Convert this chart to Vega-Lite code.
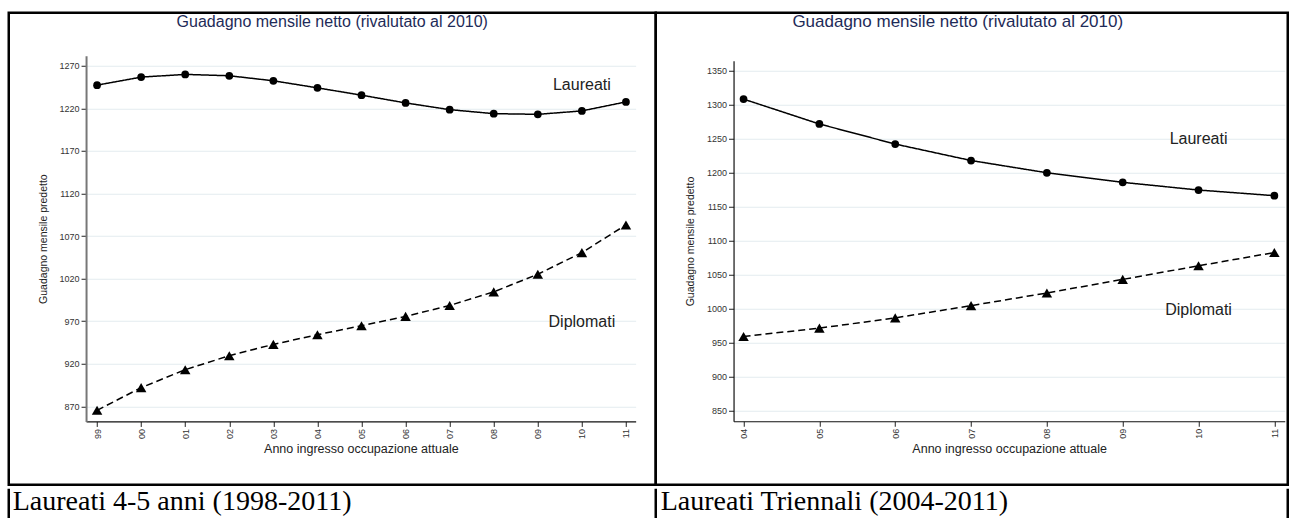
{
  "$schema": "https://vega.github.io/schema/vega-lite/v6.json",
  "padding": {"left": 6.75, "top": 10.75, "right": 0.75, "bottom": 0},
  "background": "white",
  "config": {
    "view": {"stroke": null},
    "font": "Liberation Sans",
    "concat": {"spacing": 0}
  },
  "datasets": {
    "left": [
      {"year": 1999, "group": "Laureati", "value": 1247.2},
      {"year": 2000, "group": "Laureati", "value": 1256.6},
      {"year": 2001, "group": "Laureati", "value": 1259.8},
      {"year": 2002, "group": "Laureati", "value": 1258.2},
      {"year": 2003, "group": "Laureati", "value": 1252.3},
      {"year": 2004, "group": "Laureati", "value": 1244.0},
      {"year": 2005, "group": "Laureati", "value": 1235.4},
      {"year": 2006, "group": "Laureati", "value": 1226.3},
      {"year": 2007, "group": "Laureati", "value": 1218.4},
      {"year": 2008, "group": "Laureati", "value": 1213.7},
      {"year": 2009, "group": "Laureati", "value": 1212.9},
      {"year": 2010, "group": "Laureati", "value": 1216.9},
      {"year": 2011, "group": "Laureati", "value": 1227.5},
      {"year": 1999, "group": "Diplomati", "value": 865.3},
      {"year": 2000, "group": "Diplomati", "value": 891.9},
      {"year": 2001, "group": "Diplomati", "value": 913.0},
      {"year": 2002, "group": "Diplomati", "value": 929.4},
      {"year": 2003, "group": "Diplomati", "value": 942.7},
      {"year": 2004, "group": "Diplomati", "value": 954.1},
      {"year": 2005, "group": "Diplomati", "value": 964.6},
      {"year": 2006, "group": "Diplomati", "value": 975.6},
      {"year": 2007, "group": "Diplomati", "value": 988.4},
      {"year": 2008, "group": "Diplomati", "value": 1004.4},
      {"year": 2009, "group": "Diplomati", "value": 1025.1},
      {"year": 2010, "group": "Diplomati", "value": 1050.5},
      {"year": 2011, "group": "Diplomati", "value": 1083.0}
    ],
    "right": [
      {"year": 2004, "group": "Laureati", "value": 1308.3},
      {"year": 2005, "group": "Laureati", "value": 1271.7},
      {"year": 2006, "group": "Laureati", "value": 1242.2},
      {"year": 2007, "group": "Laureati", "value": 1218.0},
      {"year": 2008, "group": "Laureati", "value": 1200.0},
      {"year": 2009, "group": "Laureati", "value": 1185.9},
      {"year": 2010, "group": "Laureati", "value": 1174.6},
      {"year": 2011, "group": "Laureati", "value": 1166.3},
      {"year": 2004, "group": "Diplomati", "value": 959.3},
      {"year": 2005, "group": "Diplomati", "value": 971.5},
      {"year": 2006, "group": "Diplomati", "value": 986.6},
      {"year": 2007, "group": "Diplomati", "value": 1004.6},
      {"year": 2008, "group": "Diplomati", "value": 1023.2},
      {"year": 2009, "group": "Diplomati", "value": 1043.2},
      {"year": 2010, "group": "Diplomati", "value": 1063.2},
      {"year": 2011, "group": "Diplomati", "value": 1082.7}
    ],
    "leftLabels": [
      {"year": 2010, "value": 1247, "label": "Laureati"},
      {"year": 2010, "value": 968.5, "label": "Diplomati"}
    ],
    "rightLabels": [
      {"year": 2010, "value": 1249, "label": "Laureati"},
      {"year": 2010, "value": 997.6, "label": "Diplomati"}
    ],
    "capLeft": [
      {"pos": 0, "caption": "Laureati 4-5 anni (1998-2011)"}
    ],
    "capRight": [
      {"pos": 0, "caption": "Laureati Triennali (2004-2011)"},
      {"pos": 1, "caption": ""}
    ]
  },
  "spacing": 0,
  "vconcat": [
    {
      "bounds": "flush",
      "spacing": 0,
      "hconcat": [
        {
          "width": 647,
          "height": 472,
          "view": {"stroke": "black", "strokeWidth": 2.5},
          "title": {"text": "Guadagno mensile netto (rivalutato al 2010)", "fontSize": 16, "font": "Liberation Sans", "fontWeight": "normal", "color": "#1e2b58", "anchor": "middle", "frame": "group", "baseline": "alphabetic", "offset": -30},
          "data": {"name": "left"},
          "encoding": {
            "x": {"field": "year", "type": "quantitative",
                  "scale": {"domain": [1998.75, 2011.22], "range": [77.3, 626.9], "nice": false, "zero": false},
                  "axis": {"orient": "bottom", "offset": -63.3, "values": [1999,2000,2001,2002,2003,2004,2005,2006,2007,2008,2009,2010,2011],
                           "labelExpr": "substring(toString(datum.value), 2, 4)", "labelAngle": -90, "labelFontSize": 9, "labelColor": "#333", "labelPadding": 2,
                           "title": "Anno ingresso occupazione attuale", "titleFontSize": 12.5, "titleFontWeight": "normal", "titleColor": "#222", "titlePadding": 4,
                           "grid": false, "tickSize": 5, "tickColor": "#222", "domainColor": "#111", "domainWidth": 1.2}},
            "y": {"field": "value", "type": "quantitative",
                  "scale": {"domain": [852.2, 1281.7], "range": [408.7, 43], "nice": false, "zero": false},
                  "axis": {"orient": "left", "offset": -77.3, "values": [870,920,970,1020,1070,1120,1170,1220,1270], "format": "d",
                           "labelFontSize": 9, "labelColor": "#333", "labelPadding": 2,
                           "title": "Guadagno mensile predetto", "titleFontSize": 10.5, "titleFontWeight": "normal", "titleColor": "#222", "titlePadding": 11,
                           "grid": true, "gridColor": "#e3ecef", "tickSize": 5, "tickColor": "#222", "domainColor": "#777", "domainWidth": 2}}
          },
          "layer": [
            {"mark": {"type": "line", "color": "black", "strokeWidth": 1.5},
             "encoding": {"strokeDash": {"field": "group", "type": "nominal", "scale": {"domain": ["Laureati", "Diplomati"], "range": [[1, 0], [7, 4]]}, "legend": null}}},
            {"mark": {"type": "point", "filled": true, "color": "black", "opacity": 1},
             "encoding": {"shape": {"field": "group", "type": "nominal", "scale": {"domain": ["Laureati", "Diplomati"], "range": ["circle", "triangle-up"]}, "legend": null},
                          "size": {"field": "group", "type": "nominal", "scale": {"domain": ["Laureati", "Diplomati"], "range": [60, 110]}, "legend": null}}},
            {"data": {"name": "leftLabels"},
             "mark": {"type": "text", "fontSize": 16, "color": "#222", "font": "Liberation Sans"},
             "encoding": {"text": {"field": "label"}}}
          ]
        },
        {
          "width": 632,
          "height": 472,
          "view": {"stroke": "black", "strokeWidth": 2.5},
          "title": {"text": "Guadagno mensile netto (rivalutato al 2010)", "fontSize": 17, "font": "Liberation Sans", "fontWeight": "normal", "color": "#1e2b58", "anchor": "middle", "frame": "group", "baseline": "alphabetic", "offset": -31, "dx": -14},
          "data": {"name": "right"},
          "encoding": {
            "x": {"field": "year", "type": "quantitative",
                  "scale": {"domain": [2003.868, 2011.137], "range": [77.8, 629], "nice": false, "zero": false},
                  "axis": {"orient": "bottom", "offset": -63.5, "values": [2004,2005,2006,2007,2008,2009,2010,2011],
                           "labelExpr": "substring(toString(datum.value), 2, 4)", "labelAngle": -90, "labelFontSize": 9, "labelColor": "#333", "labelPadding": 2,
                           "title": "Anno ingresso occupazione attuale", "titleFontSize": 12.5, "titleFontWeight": "normal", "titleColor": "#222", "titlePadding": 4,
                           "grid": false, "tickSize": 5, "tickColor": "#222", "domainColor": "#111", "domainWidth": 1.2}},
            "y": {"field": "value", "type": "quantitative",
                  "scale": {"domain": [834.6, 1364.7], "range": [408.5, 48], "nice": false, "zero": false},
                  "axis": {"orient": "left", "offset": -77.8, "values": [850,900,950,1000,1050,1100,1150,1200,1250,1300,1350], "format": "d",
                           "labelFontSize": 9, "labelColor": "#333", "labelPadding": 2,
                           "title": "Guadagno mensile predetto", "titleFontSize": 10.5, "titleFontWeight": "normal", "titleColor": "#222", "titlePadding": 11,
                           "grid": true, "gridColor": "#e3ecef", "tickSize": 5, "tickColor": "#222", "domainColor": "#111", "domainWidth": 1.2}}
          },
          "layer": [
            {"mark": {"type": "line", "color": "black", "strokeWidth": 1.5},
             "encoding": {"strokeDash": {"field": "group", "type": "nominal", "scale": {"domain": ["Laureati", "Diplomati"], "range": [[1, 0], [7, 4]]}, "legend": null}}},
            {"mark": {"type": "point", "filled": true, "color": "black", "opacity": 1},
             "encoding": {"shape": {"field": "group", "type": "nominal", "scale": {"domain": ["Laureati", "Diplomati"], "range": ["circle", "triangle-up"]}, "legend": null},
                          "size": {"field": "group", "type": "nominal", "scale": {"domain": ["Laureati", "Diplomati"], "range": [60, 110]}, "legend": null}}},
            {"data": {"name": "rightLabels"},
             "mark": {"type": "text", "fontSize": 16, "color": "#222", "font": "Liberation Sans"},
             "encoding": {"text": {"field": "label"}}}
          ]
        }
      ]
    },
    {
      "bounds": "flush",
      "spacing": 0,
      "hconcat": [
        {
          "width": 647,
          "height": 34,
          "view": {"stroke": null},
          "data": {"name": "capLeft"},
          "layer": [
            {"mark": {"type": "rule", "color": "black", "strokeWidth": 2.5},
             "encoding": {"x": {"field": "pos", "type": "quantitative", "scale": {"domain": [0, 1], "range": [0, 647], "nice": false}, "axis": null}}},
            {"mark": {"type": "text", "align": "left", "baseline": "alphabetic", "font": "Liberation Serif", "fontSize": 28, "color": "black", "dx": 4, "dy": 4.5},
             "encoding": {"x": {"field": "pos", "type": "quantitative", "scale": {"domain": [0, 1], "range": [0, 647], "nice": false}, "axis": null},
                          "text": {"field": "caption"}}}
          ]
        },
        {
          "width": 632,
          "height": 34,
          "view": {"stroke": null},
          "data": {"name": "capRight"},
          "layer": [
            {"mark": {"type": "rule", "color": "black", "strokeWidth": 2.5},
             "encoding": {"x": {"field": "pos", "type": "quantitative", "scale": {"domain": [0, 1], "range": [0, 632], "nice": false}, "axis": null}}},
            {"mark": {"type": "text", "align": "left", "baseline": "alphabetic", "font": "Liberation Serif", "fontSize": 28, "color": "black", "dx": 5, "dy": 4.5},
             "encoding": {"x": {"field": "pos", "type": "quantitative", "scale": {"domain": [0, 1], "range": [0, 632], "nice": false}, "axis": null},
                          "text": {"field": "caption"}}}
          ]
        }
      ]
    }
  ]
}
